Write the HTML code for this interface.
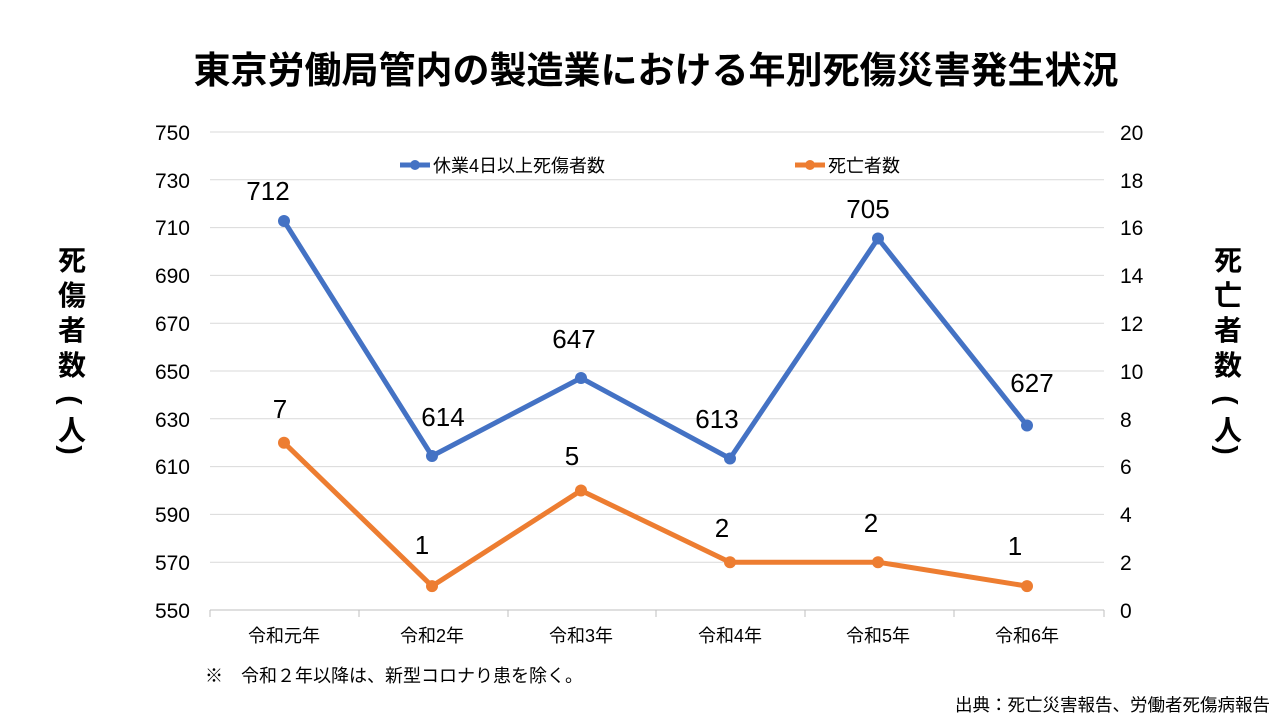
<!DOCTYPE html>
<html><head><meta charset="utf-8"><style>
body{margin:0;background:#fff;}
text{font-family:"Liberation Sans","Noto Sans CJK JP",sans-serif;}
</style></head><body>
<svg width="1280" height="720" xmlns="http://www.w3.org/2000/svg">
<rect width="1280" height="720" fill="#fff"/>
<text x="656" y="83" text-anchor="middle" font-size="37" font-weight="bold" fill="#000">東京労働局管内の製造業における年別死傷災害発生状況</text>
<g stroke="#d9d9d9" stroke-width="1">
<line x1="210" y1="132" x2="1104" y2="132"/><line x1="210" y1="179.8" x2="1104" y2="179.8"/><line x1="210" y1="227.6" x2="1104" y2="227.6"/><line x1="210" y1="275.4" x2="1104" y2="275.4"/><line x1="210" y1="323.2" x2="1104" y2="323.2"/><line x1="210" y1="371" x2="1104" y2="371"/><line x1="210" y1="418.8" x2="1104" y2="418.8"/><line x1="210" y1="466.6" x2="1104" y2="466.6"/><line x1="210" y1="514.4" x2="1104" y2="514.4"/><line x1="210" y1="562.2" x2="1104" y2="562.2"/>
</g>
<line x1="210" y1="610" x2="1104" y2="610" stroke="#bfbfbf"/>
<g stroke="#bfbfbf"><line x1="210" y1="610" x2="210" y2="617"/><line x1="359" y1="610" x2="359" y2="617"/><line x1="508" y1="610" x2="508" y2="617"/><line x1="656" y1="610" x2="656" y2="617"/><line x1="805" y1="610" x2="805" y2="617"/><line x1="954" y1="610" x2="954" y2="617"/><line x1="1104" y1="610" x2="1104" y2="617"/></g>
<g font-size="21" fill="#000" text-anchor="end">
<text x="190" y="140">750</text><text x="190" y="188">730</text><text x="190" y="235">710</text><text x="190" y="283">690</text><text x="190" y="331">670</text><text x="190" y="379">650</text><text x="190" y="427">630</text><text x="190" y="474">610</text><text x="190" y="522">590</text><text x="190" y="570">570</text><text x="190" y="618">550</text>
</g>
<g font-size="21" fill="#000" text-anchor="start">
<text x="1120" y="140">20</text><text x="1120" y="188">18</text><text x="1120" y="235">16</text><text x="1120" y="283">14</text><text x="1120" y="331">12</text><text x="1120" y="379">10</text><text x="1120" y="427">8</text><text x="1120" y="474">6</text><text x="1120" y="522">4</text><text x="1120" y="570">2</text><text x="1120" y="618">0</text>
</g>
<g font-size="28" font-weight="bold" fill="#000" text-anchor="middle">
<text x="72" y="270">死</text><text x="72" y="305">傷</text><text x="72" y="340">者</text><text x="72" y="375">数</text><text x="72" y="410" transform="rotate(90 72 400)">(</text><text x="72" y="440">人</text><text x="72" y="460" transform="rotate(90 72 450)">)</text>
<text x="1228" y="270">死</text><text x="1228" y="305">亡</text><text x="1228" y="340">者</text><text x="1228" y="375">数</text><text x="1228" y="410" transform="rotate(90 1228 400)">(</text><text x="1228" y="440">人</text><text x="1228" y="460" transform="rotate(90 1228 450)">)</text>
</g>
<g font-size="18" fill="#000" text-anchor="middle">
<text x="284" y="642">令和元年</text><text x="432" y="642">令和2年</text><text x="581" y="642">令和3年</text><text x="730" y="642">令和4年</text><text x="878" y="642">令和5年</text><text x="1027" y="642">令和6年</text>
</g>
<polyline points="284,221 432,456 581,378 730,458.5 878,238.5 1027,425.5" fill="none" stroke="#4472c4" stroke-width="5" stroke-linejoin="round"/>
<g fill="#4472c4"><circle cx="284" cy="221" r="6"/><circle cx="432" cy="456" r="6"/><circle cx="581" cy="378" r="6"/><circle cx="730" cy="458.5" r="6"/><circle cx="878" cy="238.5" r="6"/><circle cx="1027" cy="425.5" r="6"/></g>
<polyline points="284,442.7 432,586.1 581,490.5 730,562.2 878,562.2 1027,586.1" fill="none" stroke="#ed7d31" stroke-width="5" stroke-linejoin="round"/>
<g fill="#ed7d31"><circle cx="284" cy="442.7" r="6"/><circle cx="432" cy="586.1" r="6"/><circle cx="581" cy="490.5" r="6"/><circle cx="730" cy="562.2" r="6"/><circle cx="878" cy="562.2" r="6"/><circle cx="1027" cy="586.1" r="6"/></g>
<g font-size="26" fill="#000" text-anchor="middle">
<text x="268" y="200">712</text><text x="443" y="426">614</text><text x="574" y="348">647</text><text x="717" y="428">613</text><text x="868" y="218">705</text><text x="1032" y="392">627</text>
<text x="280" y="418">7</text><text x="422" y="554">1</text><text x="572" y="465">5</text><text x="722" y="537">2</text><text x="871" y="532">2</text><text x="1015" y="555">1</text>
</g>
<line x1="400" y1="165" x2="430" y2="165" stroke="#4472c4" stroke-width="5"/><circle cx="415" cy="165" r="5" fill="#4472c4"/>
<text x="433" y="172" font-size="18" fill="#000">休業4日以上死傷者数</text>
<line x1="795" y1="165" x2="825" y2="165" stroke="#ed7d31" stroke-width="5"/><circle cx="810" cy="165" r="5" fill="#ed7d31"/>
<text x="828" y="172" font-size="18" fill="#000">死亡者数</text>
<text x="205" y="682" font-size="18" fill="#000">※　令和２年以降は、新型コロナり患を除く。</text>
<text x="1270" y="711" font-size="17.5" fill="#000" text-anchor="end">出典：死亡災害報告、労働者死傷病報告</text>
</svg>
</body></html>
